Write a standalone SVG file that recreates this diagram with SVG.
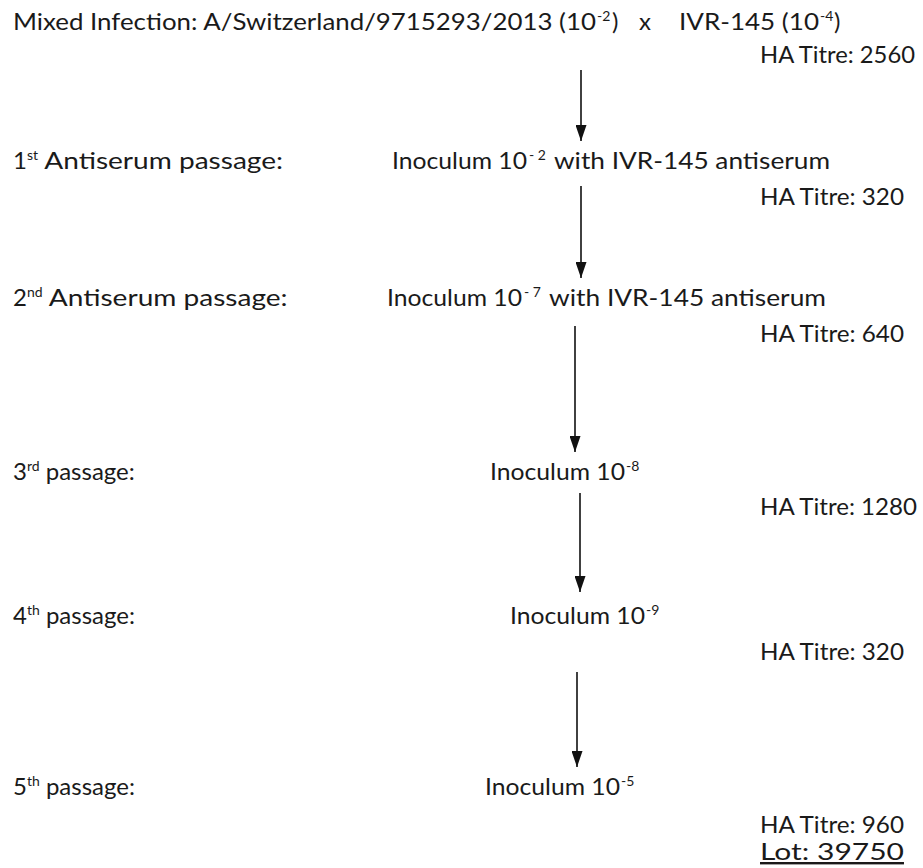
<svg xmlns="http://www.w3.org/2000/svg" width="923" height="868" viewBox="0 0 923 868">
<style>
text{font-family:"Lato","Open Sans","Liberation Sans",sans-serif;font-size:24px;fill:#1a1a1a}
.sup{font-size:14px}
.conn line{stroke:#111;stroke-width:1.6}
</style>
<defs>
<marker id="ah" viewBox="0 0 16 11" refX="16" refY="5.5" markerWidth="16" markerHeight="11" markerUnits="userSpaceOnUse" orient="auto">
<path d="M0,0 L16,5.5 L0,11 Z" fill="#111"/>
</marker>
</defs>
<rect width="923" height="868" fill="#fff"/>
<g id="title">
<text x="13" y="30" textLength="583" lengthAdjust="spacingAndGlyphs">Mixed Infection: A/Switzerland/9715293/2013 (10</text>
<text x="597" y="21" class="sup">-2</text>
<text x="612" y="30">)</text>
<text x="639" y="30">x</text>
<text x="679" y="30" textLength="140" lengthAdjust="spacingAndGlyphs">IVR-145 (10</text>
<text x="820" y="21" class="sup">-4</text>
<text x="834" y="30">)</text>
<text x="760" y="63" textLength="155" lengthAdjust="spacingAndGlyphs">HA Titre: 2560</text>
</g>
<g id="p1">
<text x="13" y="169"><tspan>1</tspan><tspan class="sup" dy="-9">st</tspan><tspan dy="9" textLength="245" lengthAdjust="spacingAndGlyphs"> Antiserum passage:</tspan></text>
<text x="392" y="169" textLength="135" lengthAdjust="spacingAndGlyphs">Inoculum 10</text>
<text x="529" y="160" class="sup">- 2</text>
<text x="554" y="169" textLength="276" lengthAdjust="spacingAndGlyphs"> with IVR-145 antiserum</text>
<text x="760" y="205" textLength="144" lengthAdjust="spacingAndGlyphs">HA Titre: 320</text>
</g>
<g id="p2">
<text x="13" y="306"><tspan>2</tspan><tspan class="sup" dy="-9">nd</tspan><tspan dy="9" textLength="245" lengthAdjust="spacingAndGlyphs">  Antiserum passage:</tspan></text>
<text x="387" y="306" textLength="135" lengthAdjust="spacingAndGlyphs">Inoculum 10</text>
<text x="524" y="297" class="sup">- 7</text>
<text x="549" y="306" textLength="277" lengthAdjust="spacingAndGlyphs"> with IVR-145 antiserum</text>
<text x="760" y="342" textLength="144" lengthAdjust="spacingAndGlyphs">HA Titre: 640</text>
</g>
<g id="p3">
<text x="13" y="480"><tspan>3</tspan><tspan class="sup" dy="-9">rd</tspan><tspan dy="9"> passage:</tspan></text>
<text x="490" y="480" textLength="135" lengthAdjust="spacingAndGlyphs">Inoculum 10</text>
<text x="626" y="471" class="sup">-8</text>
<text x="760" y="515" textLength="157" lengthAdjust="spacingAndGlyphs">HA Titre: 1280</text>
</g>
<g id="p4">
<text x="13" y="624"><tspan>4</tspan><tspan class="sup" dy="-9">th</tspan><tspan dy="9"> passage:</tspan></text>
<text x="510" y="624" textLength="135" lengthAdjust="spacingAndGlyphs">Inoculum 10</text>
<text x="646" y="615" class="sup">-9</text>
<text x="760" y="660" textLength="144" lengthAdjust="spacingAndGlyphs">HA Titre: 320</text>
</g>
<g id="p5">
<text x="13" y="795"><tspan>5</tspan><tspan class="sup" dy="-9">th</tspan><tspan dy="9"> passage:</tspan></text>
<text x="485" y="795" textLength="135" lengthAdjust="spacingAndGlyphs">Inoculum 10</text>
<text x="621" y="786" class="sup">-5</text>
<text x="760" y="833" textLength="144" lengthAdjust="spacingAndGlyphs">HA Titre: 960</text>
<text x="760" y="860" textLength="144" lengthAdjust="spacingAndGlyphs" text-decoration="underline">Lot: 39750</text>
</g>
<g class="conn" id="connectors">
<line x1="581" y1="70" x2="581" y2="141" marker-end="url(#ah)"/>
<line x1="581" y1="186" x2="581" y2="278" marker-end="url(#ah)"/>
<line x1="575" y1="326" x2="575" y2="452" marker-end="url(#ah)"/>
<line x1="580" y1="493" x2="580" y2="592" marker-end="url(#ah)"/>
<line x1="577" y1="672" x2="577" y2="767" marker-end="url(#ah)"/>
</g>
</svg>
